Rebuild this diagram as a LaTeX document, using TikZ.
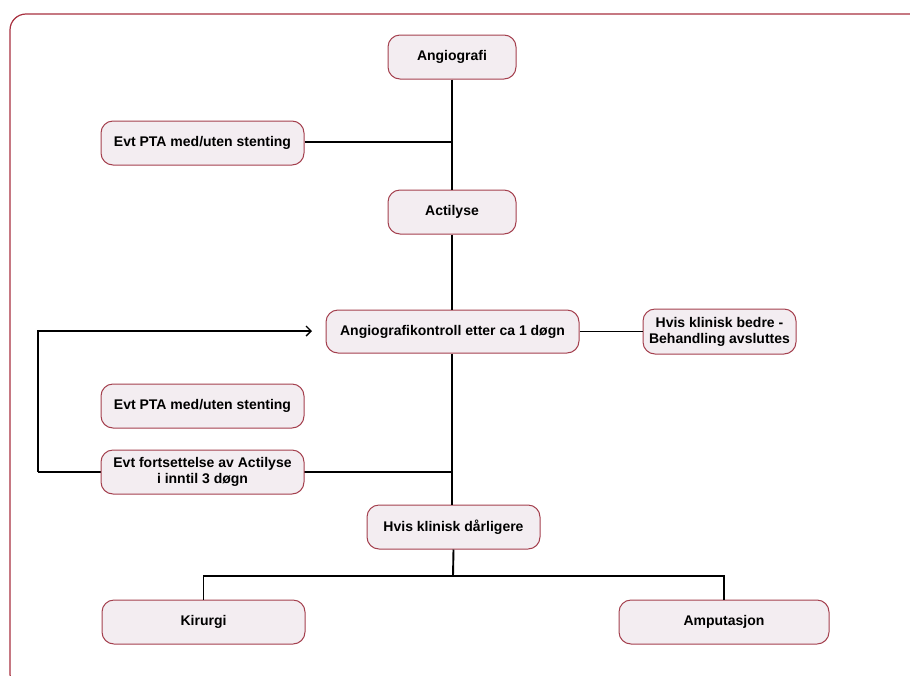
\documentclass[tikz,border=0pt]{standalone}
\usepackage{fontspec}
\setmainfont{Liberation Sans}
\usetikzlibrary{arrows.meta}
\definecolor{boxfill}{HTML}{F3EDF1}
\definecolor{boxline}{HTML}{A4404E}
\definecolor{framecol}{HTML}{A8303F}
\tikzset{
  box/.style={draw=boxline, fill=boxfill, line width=1pt, rounded corners=12pt,
    font=\bfseries\fontsize{14}{16}\selectfont, align=center, inner sep=0pt},
  conn/.style={draw=black, line width=1.9pt},
}
\begin{document}
\begin{tikzpicture}[x=1pt,y=-1pt]
\useasboundingbox (0,0) rectangle (910,675);
\begin{scope}
\clip (0,0) rectangle (910,675);
\draw[framecol, line width=1.2pt, rounded corners=16pt] (10,14) rectangle (925,690);
\end{scope}
% nodes
\node[box, minimum width=128pt, minimum height=44pt] (angio) at (452,57) {Angiografi};
\node[box, minimum width=203pt, minimum height=44pt] (pta1) at (202.5,143) {Evt PTA med/uten stenting};
\node[box, minimum width=128pt, minimum height=44pt] (acti) at (452,212) {Actilyse};
\node[box, minimum width=253pt, minimum height=43pt] (kontroll) at (452.5,331.5) {Angiografikontroll etter ca 1 døgn};
\node[box, minimum width=153pt, minimum height=45pt] (bedre) at (719.5,331.5) {Hvis klinisk bedre -\\Behandling avsluttes};
\node[box, minimum width=203pt, minimum height=44pt] (pta2) at (202.5,406) {Evt PTA med/uten stenting};
\coordinate (loopL) at (38,472);
\coordinate (loopR) at (452,472);
\coordinate (loopT) at (38,331);
\coordinate (arrEnd) at (312,331);
\draw[conn] (loopL) -- (loopR);
\node[box, minimum width=203pt, minimum height=44pt] (fort) at (202.5,472) {Evt fortsettelse av Actilyse\\i inntil 3 døgn};
\node[box, minimum width=173pt, minimum height=44pt] (darl) at (453.5,527) {Hvis klinisk dårligere};
\node[box, minimum width=203pt, minimum height=44pt] (kir) at (203.5,622) {Kirurgi};
\node[box, minimum width=210pt, minimum height=44pt] (amp) at (724,622) {Amputasjon};
% connectors
\coordinate (j1) at (452,142);
\draw[conn] (angio.south) -- (acti.north);
\draw[conn] (pta1.east |- j1) -- (j1);
\draw[conn] (acti.south) -- (kontroll.north -| acti.south);
\draw[conn] (kontroll.east) -- (bedre.west);
\draw[conn] (kontroll.south -| acti.south) -- (acti.south |- darl.north);
\draw[conn, -{Straight Barb[length=5pt,width=10pt,line width=1.4pt]}] (loopL) -- (loopT) -- (arrEnd);
\coordinate (split) at (453,576);
\draw[conn] (darl.south) -- (split);
\draw[conn] (kir.north) -- (kir.north |- split) -- (amp.north |- split) -- (amp.north);
\end{tikzpicture}
\end{document}
